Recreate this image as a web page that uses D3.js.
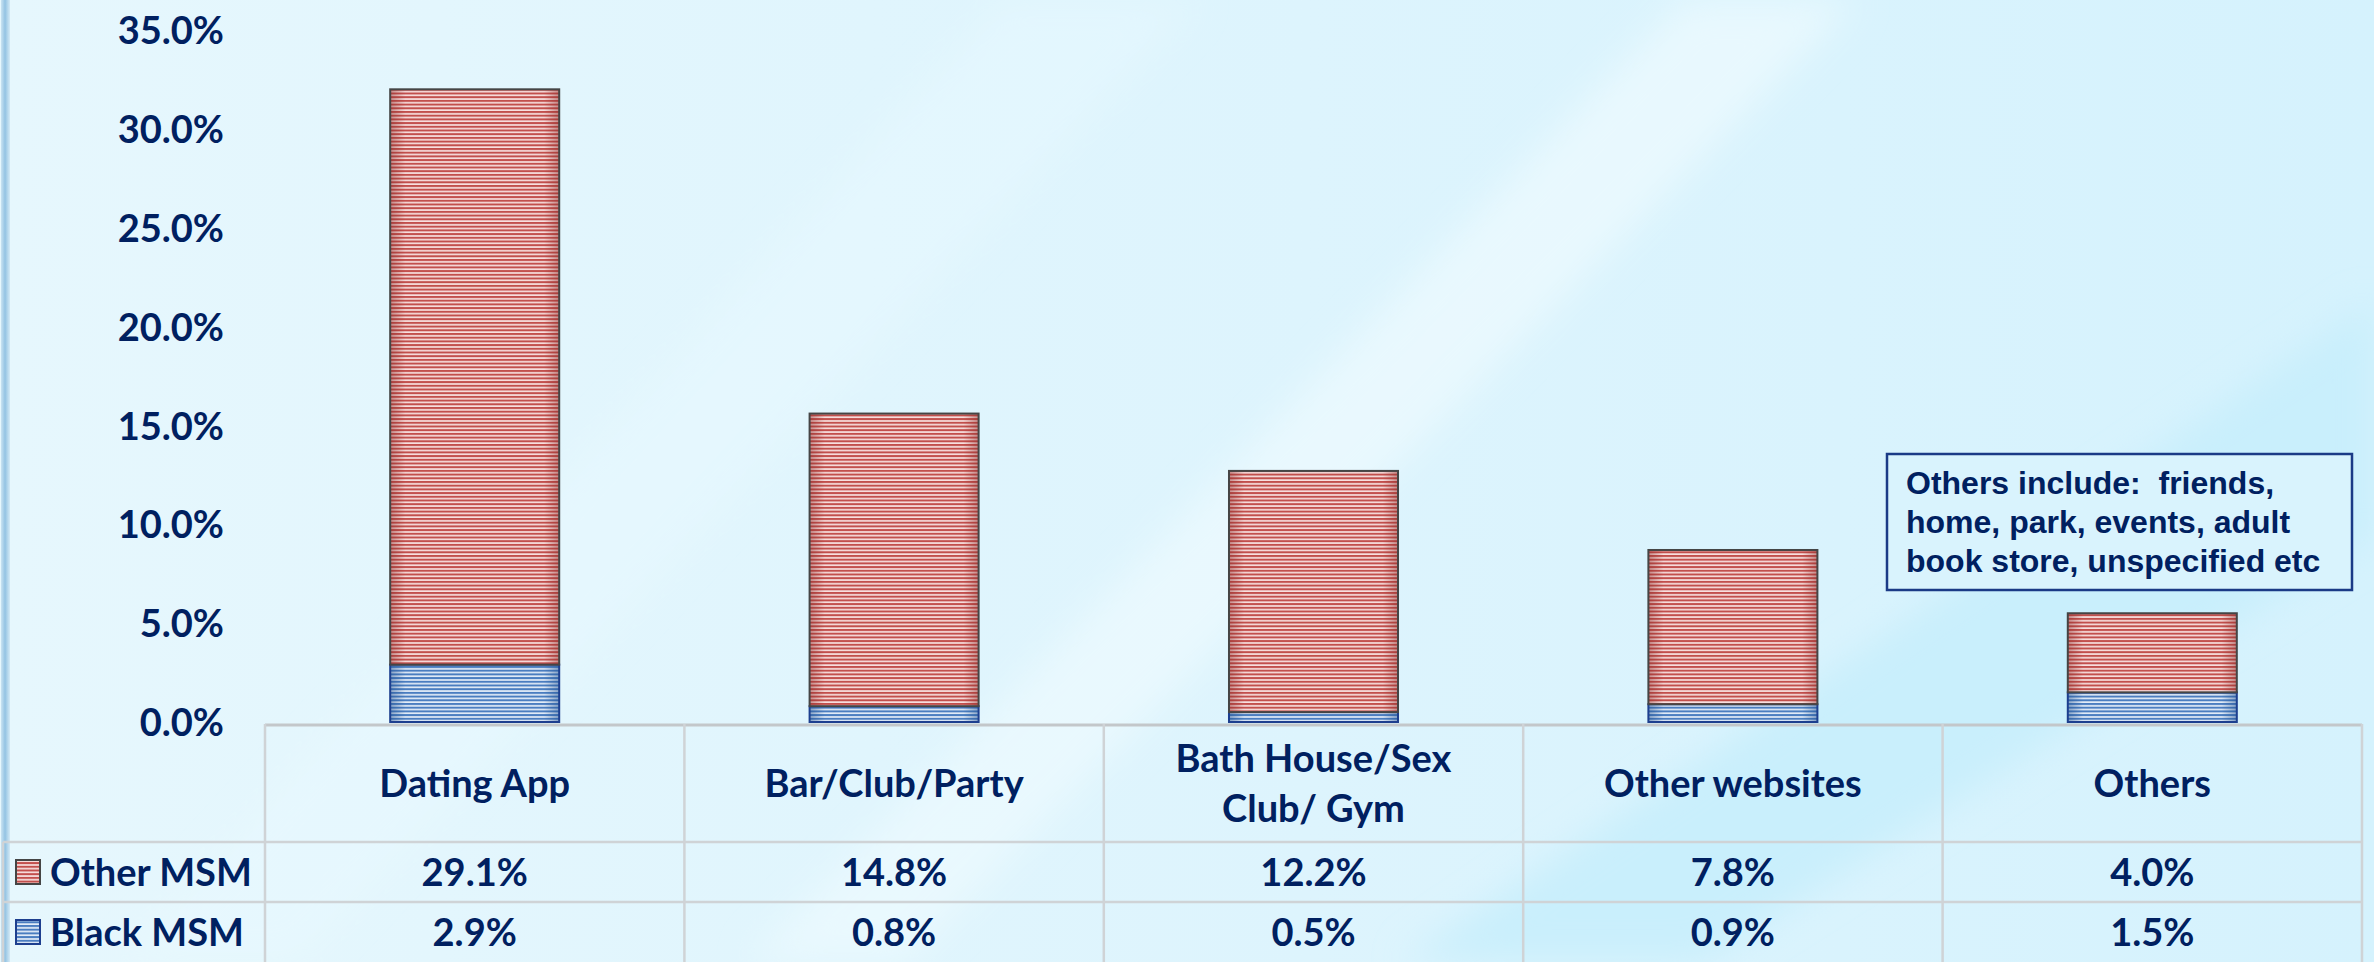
<!DOCTYPE html>
<html>
<head>
<meta charset="utf-8">
<script src="https://cdn.jsdelivr.net/npm/d3@7/dist/d3.min.js"></script>
<style>
  html, body { margin: 0; padding: 0; background: #dff5fd; }
  svg { display: block; }
  text { font-family: Lato, "Open Sans", sans-serif; font-weight: 700; fill: #002060; }
  text.note { font-family: "Liberation Sans", Arial, sans-serif; font-weight: 700; white-space: pre; }
</style>
</head>
<body>
<svg id="chart" width="2374" height="962"></svg>
<script>
// Where men who have sex with men met partners, share of respondents (%)
const categories = ["Dating App", "Bar/Club/Party", "Bath House/Sex Club/ Gym", "Other websites", "Others"];
const categoryLines = [["Dating App"], ["Bar/Club/Party"], ["Bath House/Sex", "Club/ Gym"], ["Other websites"], ["Others"]];
const seriesNames = ["Black MSM", "Other MSM"];
const blackMSM = [2.9, 0.8, 0.5, 0.9, 1.5];
const otherMSM = [29.1, 14.8, 12.2, 7.8, 4.0];
const yTicks = [0, 5, 10, 15, 20, 25, 30, 35];
const noteLines = ["Others include:  friends,", "home, park, events, adult", "book store, unspecified etc"];

const W = 2374, H = 962;
const svg = d3.select("#chart");
const defs = svg.append("defs");

// ---------- background ----------
const bg = defs.append("linearGradient").attr("id", "bgGrad").attr("x1", 0).attr("x2", 1).attr("y1", 0).attr("y2", 0);
bg.append("stop").attr("offset", "0%").attr("stop-color", "#e6f7fd");
bg.append("stop").attr("offset", "55%").attr("stop-color", "#ddf4fd");
bg.append("stop").attr("offset", "100%").attr("stop-color", "#d5f2fd");

const blur = defs.append("filter").attr("id", "soft").attr("x", "-20%").attr("y", "-20%").attr("width", "140%").attr("height", "140%");
blur.append("feGaussianBlur").attr("stdDeviation", 18);

svg.append("rect").attr("width", W).attr("height", H).attr("fill", "url(#bgGrad)");

const bands = svg.append("g").attr("filter", "url(#soft)");
bands.append("polygon")
  .attr("points", "1684,0 1857,0 905,962 750,962")
  .attr("fill", "#ebf9fe").attr("opacity", 0.85);
bands.append("polygon")
  .attr("points", "1000,0 1200,0 300,962 120,962")
  .attr("fill", "#eaf9fe").attr("opacity", 0.35);
bands.append("polygon")
  .attr("points", "2374,301 2374,535 1702,962 1403,962")
  .attr("fill", "#c8eefc").attr("opacity", 0.9);

// left edge strip
const edge = defs.append("linearGradient").attr("id", "edgeGrad").attr("x1", 0).attr("x2", 1).attr("y1", 0).attr("y2", 0);
edge.append("stop").attr("offset", "0%").attr("stop-color", "#c9e3f2");
edge.append("stop").attr("offset", "45%").attr("stop-color", "#93c3e3");
edge.append("stop").attr("offset", "100%").attr("stop-color", "#d3eaf6");
svg.append("rect").attr("x", 1).attr("y", 0).attr("width", 9).attr("height", H).attr("fill", "url(#edgeGrad)");

// ---------- fills ----------
const palette = {
  "Black MSM": { dark: "#4a7dc0", light: "#e4edf8", stroke: "#1d3f8f", shade: "#1f4e8c" },
  "Other MSM": { dark: "#c24f4c", light: "#f7e0df", stroke: "#454545", shade: "#8a2a28" }
};
function patId(name) { return name.replace(/\s+/g, ""); }
seriesNames.forEach(name => {
  const c = palette[name];
  const p = defs.append("pattern").attr("id", "stripe" + patId(name))
    .attr("patternUnits", "userSpaceOnUse").attr("width", 10).attr("height", 3.7);
  p.append("rect").attr("width", 10).attr("height", 3.7).attr("fill", c.light);
  p.append("rect").attr("width", 10).attr("height", 2).attr("fill", c.dark);
  const g = defs.append("linearGradient").attr("id", "shade" + patId(name))
    .attr("x1", 0).attr("x2", 1).attr("y1", 0).attr("y2", 0);
  [[0, 0.45], [0.09, 0], [0.91, 0], [1, 0.45]].forEach(([o, a]) =>
    g.append("stop").attr("offset", o).attr("stop-color", c.shade).attr("stop-opacity", a));
});

// ---------- scales ----------
const tableLeft = 265, tableRight = 2362;
const x = d3.scaleBand().domain(categories).range([tableLeft, tableRight])
  .paddingInner(0.597).paddingOuter(0.597 / 2);
const y = d3.scaleLinear().domain([0, 35]).range([722, 30]);

// ---------- y axis ----------
const yAxis = svg.append("g").attr("transform", "translate(224,0)")
  .call(d3.axisLeft(y).tickValues(yTicks).tickSize(0).tickPadding(0).tickFormat(d => d.toFixed(1) + "%"));
yAxis.select(".domain").remove();
yAxis.selectAll("text")
  .attr("font-size", 38).attr("fill", "#002060")
  .attr("dy", "0.36em");

// ---------- stacked bars ----------
const rows = categories.map((c, i) => ({ category: c, "Black MSM": blackMSM[i], "Other MSM": otherMSM[i] }));
const stacked = d3.stack().keys(seriesNames)(rows);

const barG = svg.append("g");
stacked.forEach(layer => {
  const name = layer.key, c = palette[name];
  const g = barG.append("g");
  layer.forEach(d => {
    const x0 = x(d.data.category), bw = x.bandwidth();
    const top = y(d[1]), h = y(d[0]) - y(d[1]);
    g.append("rect").attr("x", x0).attr("y", top).attr("width", bw).attr("height", h)
      .attr("fill", "url(#stripe" + patId(name) + ")");
    g.append("rect").attr("x", x0).attr("y", top).attr("width", bw).attr("height", h)
      .attr("fill", "url(#shade" + patId(name) + ")");
    g.append("rect").attr("x", x0).attr("y", top).attr("width", bw).attr("height", h)
      .attr("fill", "none").attr("stroke", c.stroke).attr("stroke-width", 2);
  });
});

// ---------- data table ----------
const rowTop = 724, headerBottom = 842, row1Bottom = 902, rowBottom = 962;
const step = x.step();
const colLeft = i => tableLeft + i * step;
const colCenter = c => x(c) + x.bandwidth() / 2;
const grid = svg.append("g").attr("stroke", "#cfd3d6").attr("stroke-width", 2.5).attr("fill", "none");

grid.append("line").attr("x1", tableLeft).attr("x2", tableRight).attr("y1", rowTop + 1).attr("y2", rowTop + 1)
  .attr("stroke", "#c3c7ca").attr("stroke-width", 3);
[headerBottom, row1Bottom].forEach(yy =>
  grid.append("line").attr("x1", 3).attr("x2", tableRight).attr("y1", yy).attr("y2", yy));
d3.range(categories.length + 1).forEach(i =>
  grid.append("line").attr("x1", colLeft(i)).attr("x2", colLeft(i)).attr("y1", rowTop).attr("y2", rowBottom));
grid.append("line").attr("x1", 3).attr("x2", 3).attr("y1", headerBottom).attr("y2", rowBottom);

// header labels
const headG = svg.append("g").attr("text-anchor", "middle").attr("font-size", 38);
categories.forEach((c, i) => {
  const lines = categoryLines[i];
  const cy = (rowTop + headerBottom) / 2;
  const lh = 50;
  lines.forEach((ln, k) => {
    headG.append("text").attr("x", colCenter(c))
      .attr("y", cy + (k - (lines.length - 1) / 2) * lh).attr("dy", "0.36em").text(ln);
  });
});

// value rows: Other MSM first, then Black MSM
const tableSeries = [
  { name: "Other MSM", values: otherMSM, top: headerBottom, bottom: row1Bottom },
  { name: "Black MSM", values: blackMSM, top: row1Bottom, bottom: rowBottom }
];
const valG = svg.append("g").attr("font-size", 38);
tableSeries.forEach(s => {
  const cy = (s.top + s.bottom) / 2;
  s.values.forEach((v, i) => {
    valG.append("text").attr("x", colCenter(categories[i])).attr("y", cy).attr("dy", "0.36em")
      .attr("text-anchor", "middle").text(v.toFixed(1) + "%");
  });
  // legend key
  const c = palette[s.name];
  valG.append("rect").attr("x", 16).attr("y", cy - 12).attr("width", 24).attr("height", 24)
    .attr("fill", "url(#stripe" + patId(s.name) + ")").attr("stroke", c.stroke).attr("stroke-width", 2);
  valG.append("text").attr("x", 50).attr("y", cy).attr("dy", "0.36em").text(s.name);
});

// ---------- note box ----------
const note = svg.append("g");
note.append("rect").attr("x", 1887).attr("y", 454).attr("width", 465).attr("height", 136)
  .attr("fill", "#d9f3fd").attr("stroke", "#1a3a86").attr("stroke-width", 2.5);
noteLines.forEach((ln, k) => {
  note.append("text").attr("class", "note").attr("x", 1906).attr("y", 494 + k * 39)
    .attr("font-size", 32).text(ln);
});
</script>
</body>
</html>
